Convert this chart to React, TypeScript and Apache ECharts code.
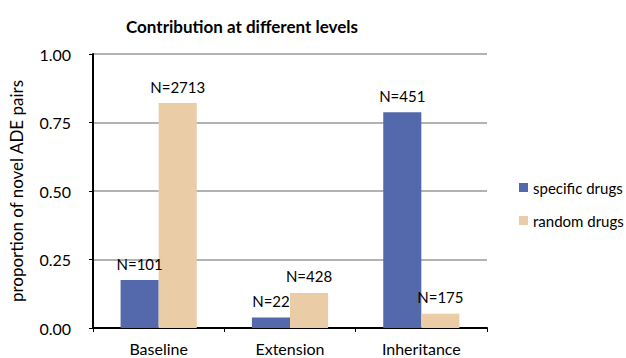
import React, { useEffect, useRef } from "react";
import * as echarts from "echarts";

const categories = ["Baseline", "Extension", "Inheritance"];
const specificValues = [0.175, 0.038, 0.787];
const randomValues = [0.821, 0.128, 0.052];
const specificLabels = ["N=101", "N=22", "N=451"];
const randomLabels = ["N=2713", "N=428", "N=175"];
const yTicks = ["0.00", "0.25", "0.50", "0.75", "1.00"];

const FONT = "Lato, 'Noto Sans', sans-serif";

export default function App() {
  const ref = useRef<HTMLDivElement>(null);
  useEffect(() => {
    if (!ref.current) return;
    const chart = echarts.init(ref.current, undefined, { renderer: "svg" });
    chart.setOption({
      animation: false,
      textStyle: { fontFamily: FONT },
      title: {
        text: "Contribution at different levels",
        left: 237,
        top: 13,
        textAlign: "center",
        textStyle: { fontFamily: FONT, fontSize: 17, fontWeight: "bold", color: "#000" },
      },
      legend: {
        orient: "vertical",
        left: 519,
        top: 180,
        padding: 0,
        itemWidth: 9,
        itemHeight: 9,
        itemGap: 18,
        icon: "rect",
        textStyle: { fontFamily: FONT, fontSize: 15, color: "#000" },
        data: ["specific drugs", "random drugs"],
      },
      grid: { left: 90, right: 139, top: 54, bottom: 30 },
      xAxis: {
        type: "category",
        data: categories,
        axisLine: { lineStyle: { color: "#000", width: 2 } },
        axisTick: { show: true, length: 4, lineStyle: { color: "#000" } },
        axisLabel: { fontFamily: FONT, fontSize: 16, color: "#000", margin: 12 },
      },
      yAxis: {
        type: "value",
        min: 0,
        max: 1,
        interval: 0.25,
        name: "proportion of novel ADE pairs",
        nameLocation: "middle",
        nameGap: 68,
        nameTextStyle: { fontFamily: FONT, fontSize: 17, color: "#000" },
        axisLine: { show: true, lineStyle: { color: "#000", width: 2 } },
        axisTick: { show: true, length: 4, lineStyle: { color: "#000" } },
        splitLine: { lineStyle: { color: "#999", width: 1.5 } },
        axisLabel: {
          fontFamily: FONT,
          fontSize: 16,
          color: "#000",
          margin: 22,
          formatter: (v: number) => yTicks[Math.round(v / 0.25)] ?? v.toFixed(2),
        },
      },
      series: [
        {
          name: "specific drugs",
          type: "bar",
          data: specificValues,
          barGap: "0%",
          barCategoryGap: "42%",
          itemStyle: { color: "#5469AB" },
          label: {
            show: true,
            position: "top",
            distance: 9,
            fontFamily: FONT,
            fontSize: 15,
            color: "#000",
            formatter: (p: any) => specificLabels[p.dataIndex],
          },
        },
        {
          name: "random drugs",
          type: "bar",
          data: randomValues,
          itemStyle: { color: "#EACCA6" },
          label: {
            show: true,
            position: "top",
            distance: 9,
            fontFamily: FONT,
            fontSize: 15,
            color: "#000",
            formatter: (p: any) => randomLabels[p.dataIndex],
          },
        },
      ],
    });
    return () => chart.dispose();
  }, []);
  return <div ref={ref} style={{ width: 626, height: 358, position: "absolute", left: 0, top: 0 }} />;
}
